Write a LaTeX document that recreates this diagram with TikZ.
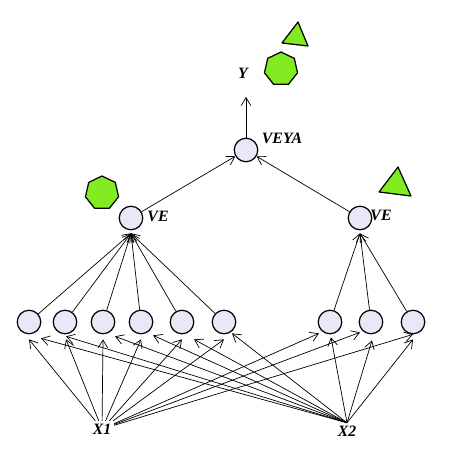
\documentclass[tikz,border=0pt]{standalone}
\definecolor{unitfill}{rgb}{0.91,0.91,0.97}
\definecolor{markgreen}{rgb}{0.51,0.92,0.13}
\usepackage{fontspec}
\setmainfont{Liberation Serif}
\usetikzlibrary{arrows.meta,calc,shapes.geometric}
\tikzset{
  unit/.style={circle,draw,fill=unitfill,line width=0.7pt,minimum size=0.47cm,inner sep=0pt},
  lab/.style={font=\small\bfseries\itshape,inner sep=1.5pt},
  wire/.style={-{Straight Barb[length=4.5pt,width=5.5pt]},line width=0.4pt},
  hepta/.style={regular polygon,regular polygon sides=7,draw,fill=markgreen,line width=0.7pt,minimum size=0.68cm,inner sep=0pt},
  tri/.style={draw,fill=markgreen,line width=0.7pt,line join=round}
}
\begin{document}
\begin{tikzpicture}
        \useasboundingbox (0,0) rectangle (9.42,9.3);
        % hidden row
        \node[unit] (h1) at (0.58,2.86) {};
        \node[unit] (h2) at (1.30,2.86) {};
        \node[unit] (h3) at (2.06,2.86) {};
        \node[unit] (h4) at (2.82,2.86) {};
        \node[unit] (h5) at (3.64,2.86) {};
        \node[unit] (h6) at (4.48,2.86) {};
        \node[unit] (h7) at (6.60,2.86) {};
        \node[unit] (h8) at (7.42,2.86) {};
        \node[unit] (h9) at (8.26,2.86) {};
        \node[unit] (veleft) at (2.62,4.94) {};
        \node[unit] (veright) at (7.20,4.94) {};
        \node[unit] (veya) at (4.92,6.30) {};
        % labels
        \node[lab] (x1) at (2.04,0.72) {X1};
        \node[lab] (x2) at (6.94,0.68) {X2};
        \node[lab] (velabl) at (3.16,4.98) {VE};
        \node[lab] (velabr) at (7.62,5.00) {VE};
        \node[lab] (veyalab) at (5.64,6.54) {VEYA};
        \node[lab] (ylab) at (4.86,7.84) {Y};
        \coordinate (yend) at (4.92,7.36);
        % marks
        \node[hepta] (heptal) at (2.04,5.44) {};
        \node[hepta] (heptat) at (5.62,7.92) {};
        \draw[tri] (5.96,8.86)--(5.64,8.44)--(6.16,8.38)--cycle;
        \draw[tri] (7.96,5.96)--(7.58,5.46)--(8.22,5.38)--cycle;
        % from X1
        \draw[wire] (x1)--($(h1.south)+(0,-0.10)$);
        \draw[wire] (x1)--($(h2.south)+(0.02,-0.10)$);
        \draw[wire] (x1)--($(h3.south)+(0,-0.10)$);
        \draw[wire] (x1)--($(h4.south)+(0,-0.10)$);
        \draw[wire] (x1)--($(h5.south)+(0,-0.10)$);
        \draw[wire] (x1)--($(h6.south)+(0,-0.10)$);
        \draw[wire] (x1)--($(h7.south)+(-0.22,0.02)$);
        \draw[wire] (x1)--($(h8.south)+(-0.22,0.04)$);
        \draw[wire] (x1)--($(h9.south)+(0,0)$);
        % from X2
        \draw[wire] (x2.north)--($(h1.south)+(0.24,-0.08)$);
        \draw[wire] (x2.north)--($(h2.south)+(0.02,-0.04)$);
        \draw[wire] (x2.north)--($(h3.south)+(0.24,-0.04)$);
        \draw[wire] (x2.north)--($(h4.south)+(0.24,-0.02)$);
        \draw[wire] (x2.north)--($(h5.south)+(0.24,-0.10)$);
        \draw[wire] (x2.north)--($(h6.south)+(0.16,0.02)$);
        \draw[wire] (x2.north)--($(h7.south)+(0.02,-0.06)$);
        \draw[wire] (x2.north)--($(h8.south)+(0.02,-0.12)$);
        \draw[wire] (x2.north)--($(h9.south)+(0,-0.10)$);
        % up to VE
        \draw[wire] (h1)--($(veleft.south)+(0,-0.06)$);
        \draw[wire] (h2)--($(veleft.south)+(0,-0.06)$);
        \draw[wire] (h3)--($(veleft.south)+(0,-0.06)$);
        \draw[wire] (h4)--($(veleft.south)+(0,-0.06)$);
        \draw[wire] (h5)--($(veleft.south)+(0,-0.06)$);
        \draw[wire] (h6)--($(veleft.south)+(0,-0.06)$);
        \draw[wire] (h7)--($(veright.south)+(0,-0.06)$);
        \draw[wire] (h8)--($(veright.south)+(0,-0.06)$);
        \draw[wire] (h9)--($(veright.south)+(0,-0.06)$);
        % top
        \draw[wire] (veleft)--(veya);
        \draw[wire] (veright)--(veya);
        \draw[wire] (veya)--(yend);
      \end{tikzpicture}
\end{document}
